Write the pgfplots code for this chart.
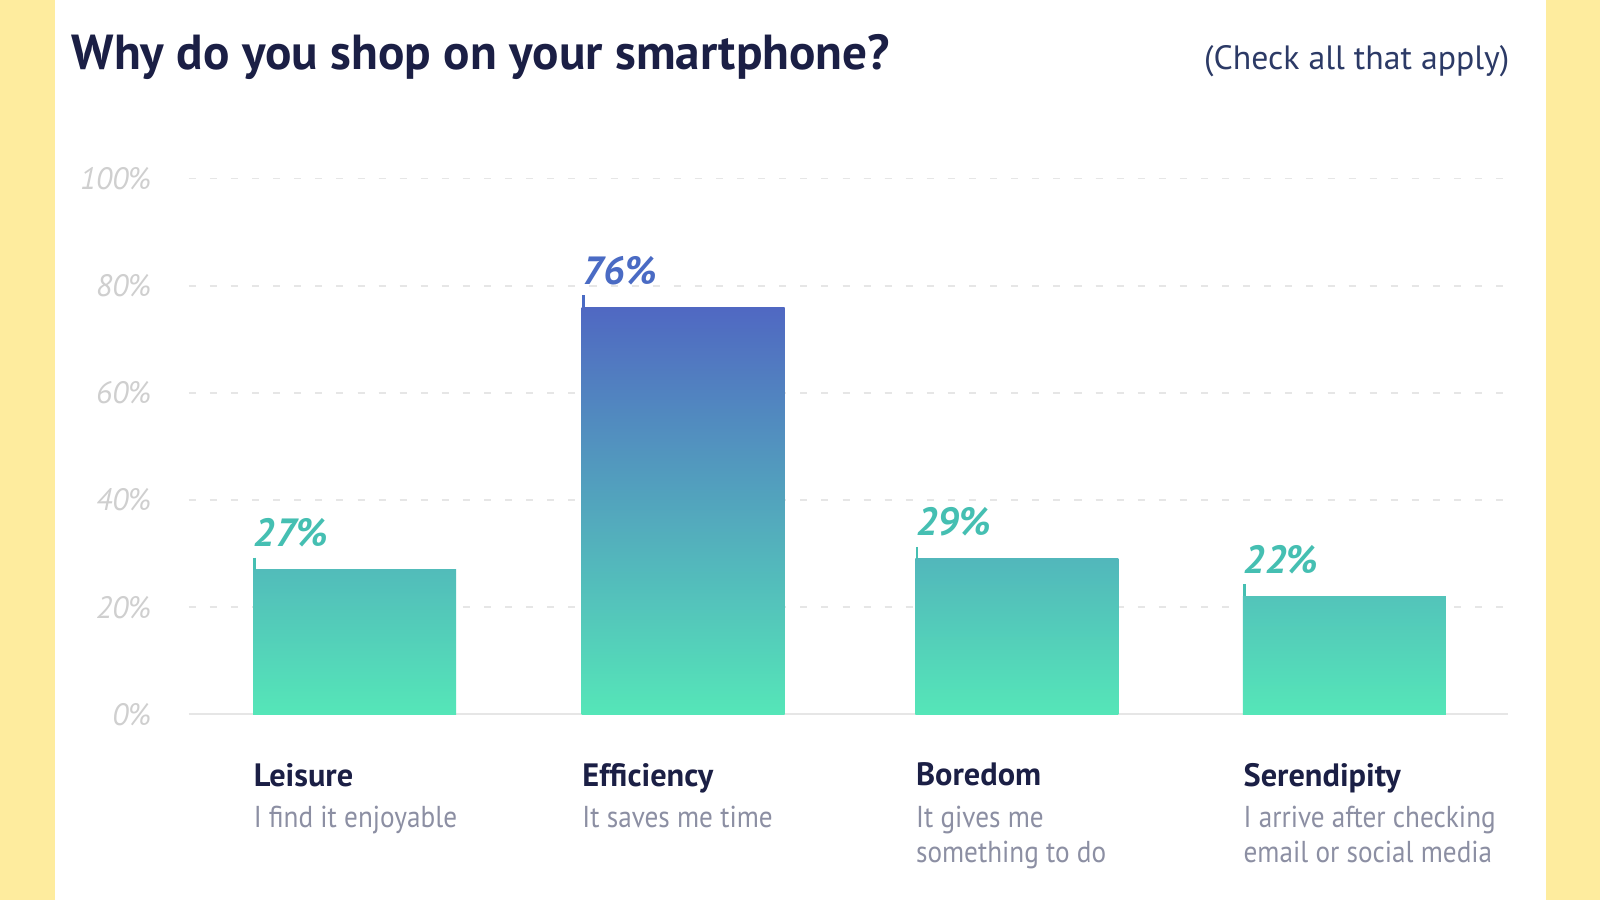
\documentclass[border=0pt]{standalone}
\usepackage{pgfplots}
\pgfplotsset{compat=1.18}
\usepackage{fontspec}
\setmainfont{PT Sans}
\newfontfamily\condfont{PT Sans}[FakeStretch=0.9]
\definecolor{bgyellow}{HTML}{FEEC9E}
\definecolor{navy}{HTML}{1B1F45}
\definecolor{checkc}{HTML}{2C3A66}
\definecolor{subgray}{HTML}{8C8FA3}
\definecolor{tickgray}{HTML}{CFCFCF}
\definecolor{gridgray}{HTML}{E6E6E6}
\definecolor{mint}{RGB}{85,230,184}
\definecolor{topA}{RGB}{82,188,186}
\definecolor{topB}{RGB}{80,104,194}
\definecolor{topC}{RGB}{82,183,187}
\definecolor{topD}{RGB}{83,196,186}
\definecolor{labTeal}{HTML}{45BFB2}
\definecolor{labBlue}{HTML}{4A6BC4}
\newcommand{\cathd}[1]{\fontsize{9.2}{9.8}\selectfont\bfseries\color{navy}#1}
\newcommand{\catsb}[1]{\condfont\fontsize{8.6}{9.9}\selectfont\color{subgray}#1}
\pgfplotsset{
  valbar/.style n args={2}{
    ybar, bar width=203, bar shift=0pt, draw=none,
    bottom color=mint, top color=#1,
    nodes near coords={\pgfmathprintnumber{\pgfplotspointmeta}\%},
    every node near coord/.append style={anchor=base west, xshift=-1.015cm, yshift=0.23cm,
      font=\fontsize{11.2}{12}\selectfont\bfseries\itshape, text=#2, inner sep=0pt},
  },
  tickmark/.style={only marks, mark=|, mark size=0.06cm, color=#1, line width=0.75pt,
    mark options={xshift=-1.0cm, yshift=0.06cm}, forget plot},
}
\begin{document}
\begin{tikzpicture}
\fill[bgyellow] (0,0) rectangle (16,9);
\fill[white] (0.55,0) rectangle (15.46,9);
\node[anchor=base west, text=navy, font=\fontsize{14}{16}\selectfont\bfseries, inner sep=0pt] at (0.71,8.306) {Why do you shop on your smartphone?};
\node[anchor=base east, text=checkc, font=\fontsize{9.6}{11}\selectfont, inner sep=0pt] at (15.10,8.306) {(Check all that apply)};
\begin{axis}[
  at={(1.888cm,1.857cm)}, anchor=south west,
  scale only axis, width=13.194cm, height=5.357cm,
  xmin=188.8, xmax=1508.2, ymin=0, ymax=100,
  axis line style={draw=none},
  major tick length=0pt,
  ytick={20,40,60,80,100},
  extra y ticks={0},
  extra y tick style={grid style={solid, draw=gridgray, line width=0.6pt}},
  ymajorgrids,
  grid style={dash pattern=on 2pt off 4pt, draw=gridgray, line width=0.45pt},
  /pgf/number format/assume math mode=true,
  yticklabel={\pgfmathprintnumber{\tick}\%},
  yticklabel style={font=\fontsize{8.8}{10}\selectfont\itshape, text=tickgray, anchor=east, inner sep=0pt, xshift=-0.37cm},
  xtick={354.6,683.2,1016.9,1344.4},
  xticklabels={
    {\cathd{Leisure}\\[-0.2pt]\catsb{I find it enjoyable}},
    {\cathd{Efficiency}\\[-0.2pt]\catsb{It saves me time}},
    {\cathd{Boredom}\\[-0.2pt]\catsb{It gives me}\\[-2pt]\catsb{something to do}},
    {\cathd{Serendipity}\\[-0.2pt]\catsb{I arrive after checking}\\[-2pt]\catsb{email or social media}}},
  xticklabel style={anchor=north west, align=left, inner sep=0pt, xshift=-1.015cm, yshift=-0.48cm},
  clip=false,
]
\addplot[tickmark=labTeal] coordinates {(354.6,27)};
\addplot[tickmark=labBlue] coordinates {(683.2,76)};
\addplot[tickmark=labTeal] coordinates {(1016.9,29)};
\addplot[tickmark=labTeal] coordinates {(1344.4,22)};
\addplot[valbar={topA}{labTeal}] coordinates {(354.6,27)};
\addplot[valbar={topB}{labBlue}] coordinates {(683.2,76)};
\addplot[valbar={topC}{labTeal}] coordinates {(1016.9,29)};
\addplot[valbar={topD}{labTeal}] coordinates {(1344.4,22)};
\end{axis}
\end{tikzpicture}
\end{document}
